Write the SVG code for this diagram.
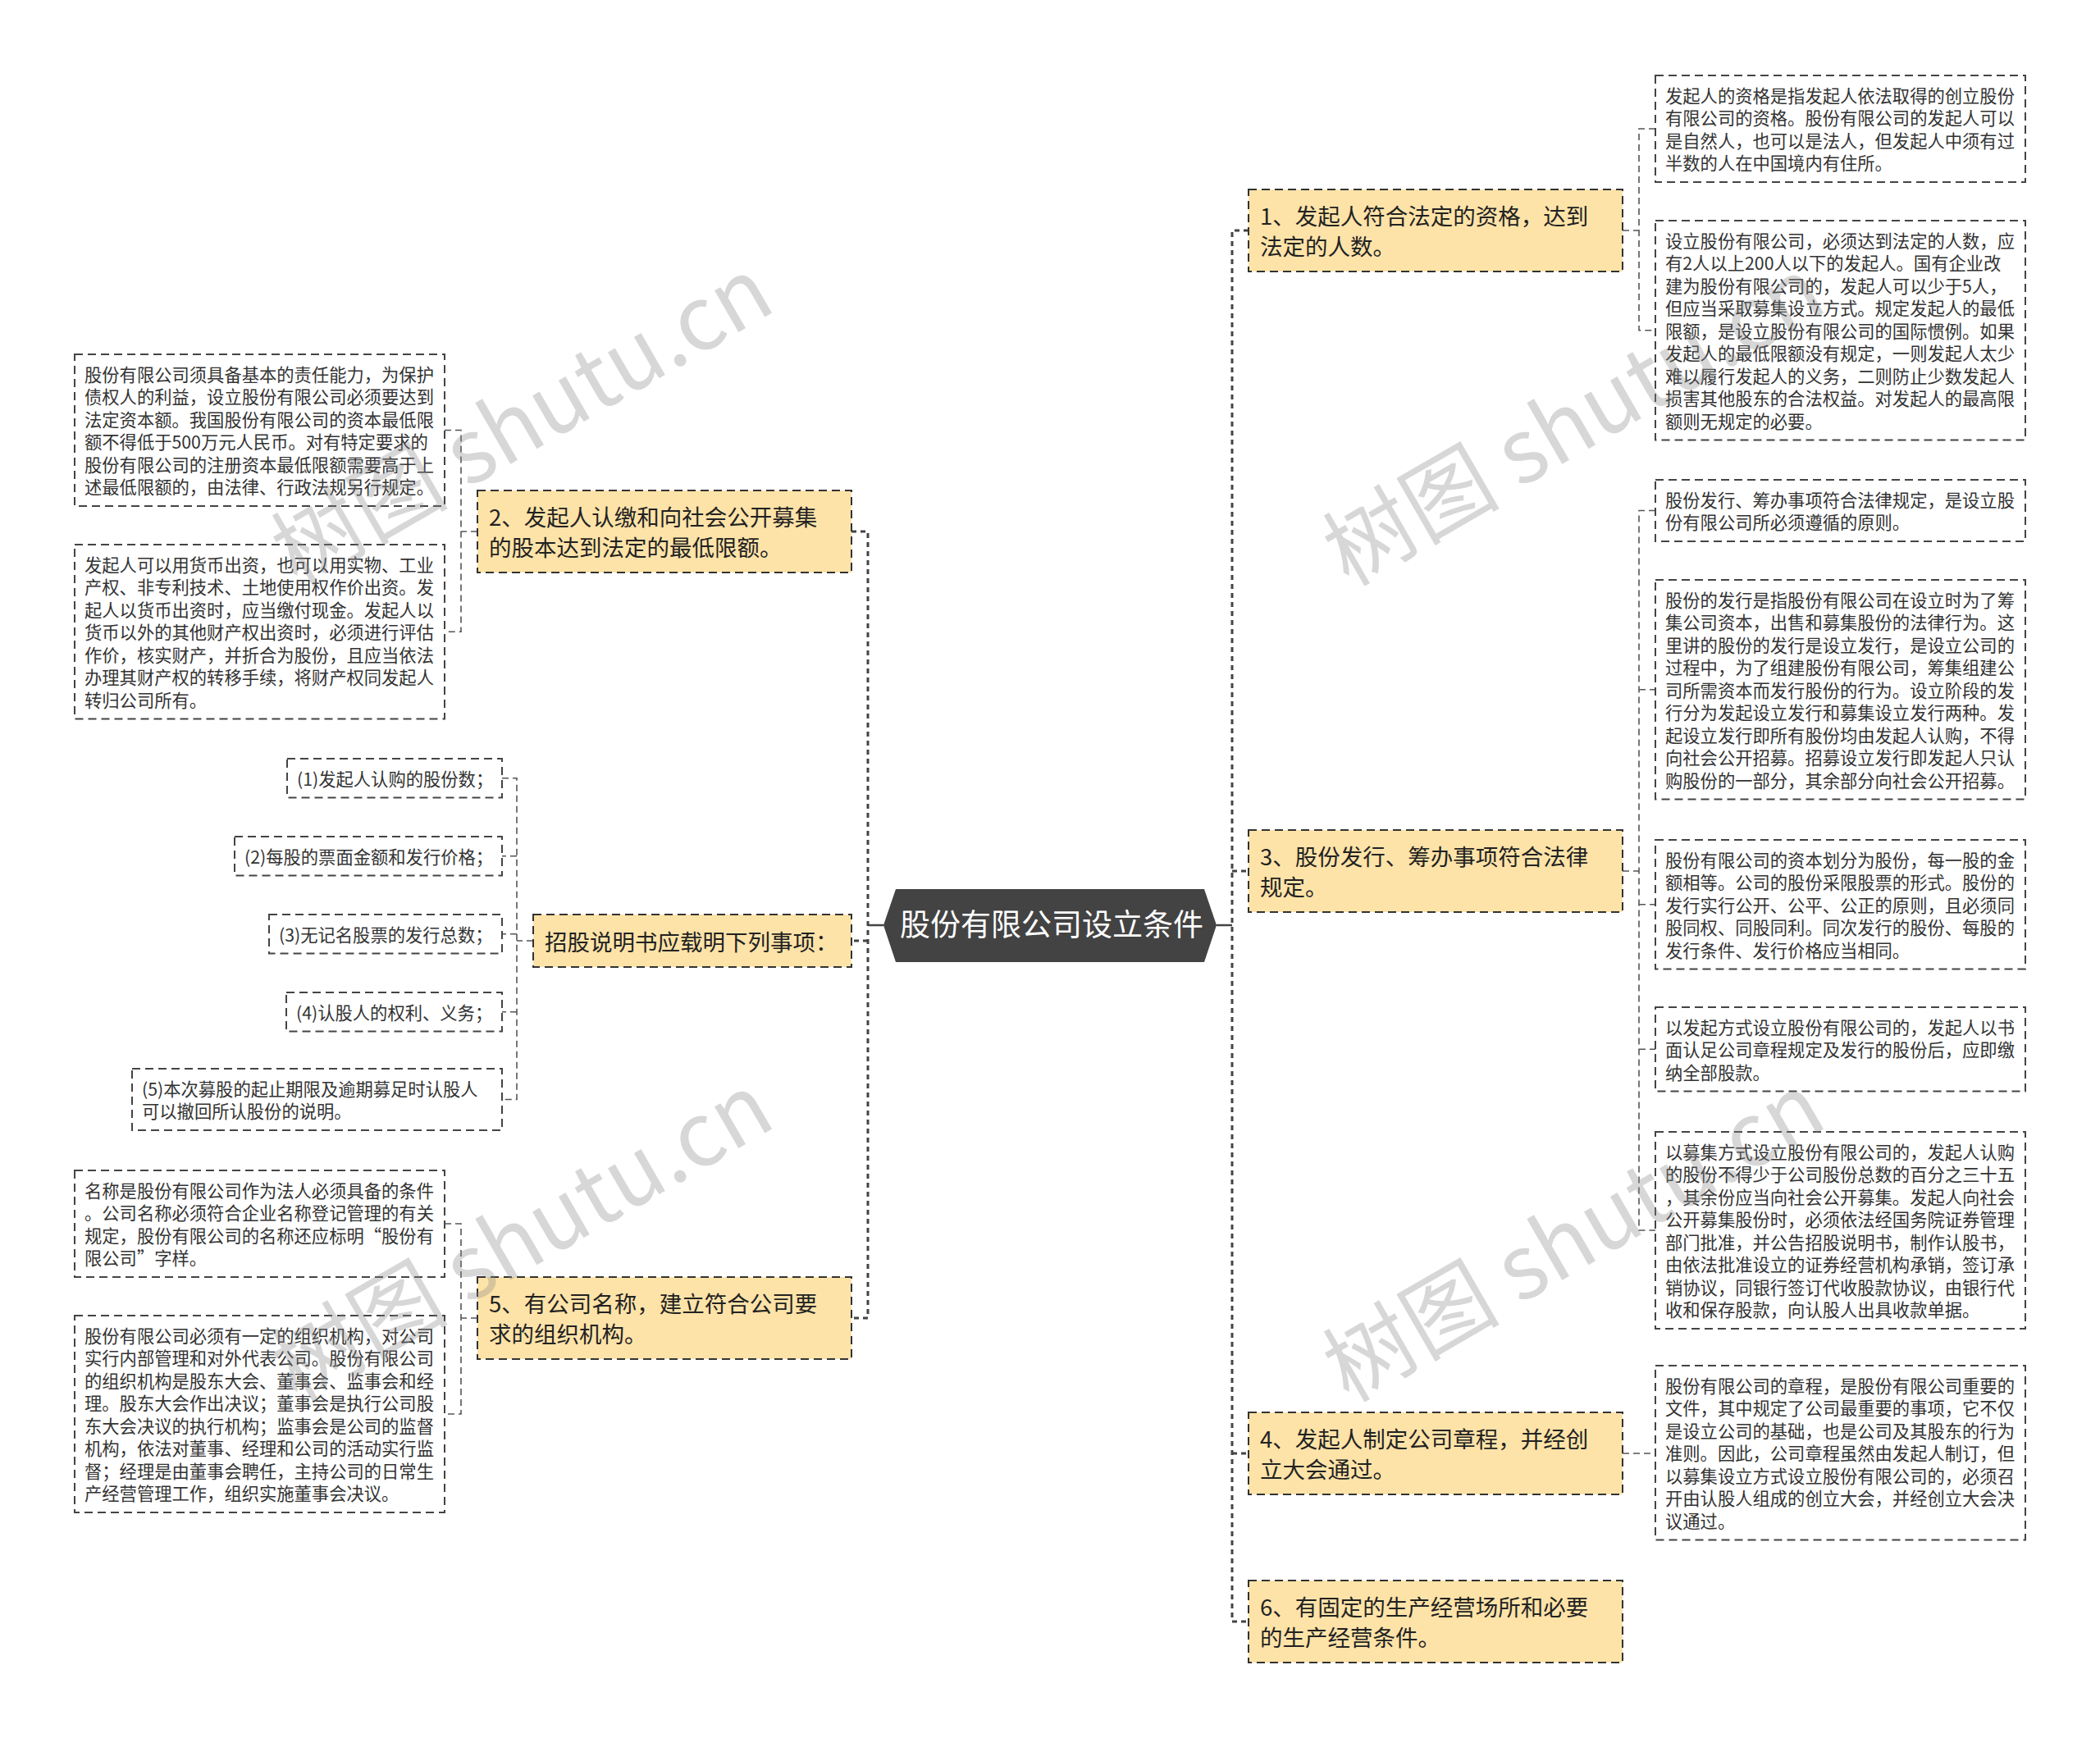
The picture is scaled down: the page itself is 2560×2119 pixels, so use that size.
<svg xmlns="http://www.w3.org/2000/svg" width="2560" height="2119" viewBox="0 0 2560 2119">
<style>
.leaf{fill:#ffffff;stroke:#444;stroke-width:2;stroke-dasharray:10 6}
.branch{fill:#fee3a8;stroke:#333;stroke-width:2;stroke-dasharray:10 6}
.lt{font-family:"Noto Sans CJK SC","Microsoft YaHei",sans-serif;font-size:21.3px;fill:#333;transform:translate(0px,1.5px)}
.bt{font-family:"Noto Sans CJK SC","Microsoft YaHei",sans-serif;font-size:27.5px;fill:#222;transform:translate(0px,1.5px)}
.ct{font-family:"Noto Sans CJK SC","Microsoft YaHei",sans-serif;font-size:37px;fill:#fff}
.trunk{fill:none;stroke:#444;stroke-width:3;stroke-dasharray:6 5}
.thin{fill:none;stroke:#555;stroke-width:1.6;stroke-dasharray:8 5}
.solid{fill:none;stroke:#444;stroke-width:2.5}
.wm{font-family:"Noto Sans CJK SC","Microsoft YaHei",sans-serif;font-size:108px;fill:#888;opacity:0.33}
</style>
<rect width="2560" height="2119" fill="#ffffff"/>
<g id="connectors">
<path class="solid" d="M1058,1128 H1077 M1483,1128 H1502"/>
<path class="trunk" d="M1522,281 H1502 V1977 H1522 M1502,1062 H1522 M1502,1772 H1522"/>
<path class="trunk" d="M1038,648 H1058 V1607 H1038 M1058,1147 H1038"/>
<path class="thin" d="M1978,281 H1998 M2018,157 H1998 V402.75 H2018"/>
<path class="thin" d="M1978,1062 H1998 M2018,622.5 H1998 V1500 H2018 M1998,840.75 H2018 M1998,1102.75 H2018 M1998,1279.25 H2018"/>
<path class="thin" d="M1978,1772 H2018"/>
<path class="thin" d="M582,648 H562 M542,524.5 H562 V770.25 H542"/>
<path class="thin" d="M650,1147 H630 M612,948.75 H630 V1340.5 H612 M630,1043.75 H612 M630,1138.75 H612 M630,1233.75 H612"/>
<path class="thin" d="M582,1607 H562 M542,1492 H562 V1724 H542"/>
</g>
<g id="center">
<polygon points="1077,1128 1092,1084 1468,1084 1483,1128 1468,1173 1092,1173" fill="#434343"/>
<text class="ct" x="1282" y="1141" text-anchor="middle">股份有限公司设立条件</text>
</g>
<g id="n1">
<rect class="branch" x="1522" y="231" width="456" height="100"/>
<text class="bt"><tspan x="1536" y="272.5">1、发起人符合法定的资格，达到</tspan><tspan x="1536" y="309.5">法定的人数。</tspan></text>
</g>
<g id="n3">
<rect class="branch" x="1522" y="1012" width="456" height="100"/>
<text class="bt"><tspan x="1536" y="1053.5">3、股份发行、筹办事项符合法律</tspan><tspan x="1536" y="1090.5">规定。</tspan></text>
</g>
<g id="n4">
<rect class="branch" x="1522" y="1722" width="456" height="100"/>
<text class="bt"><tspan x="1536" y="1763.5">4、发起人制定公司章程，并经创</tspan><tspan x="1536" y="1800.5">立大会通过。</tspan></text>
</g>
<g id="n6">
<rect class="branch" x="1522" y="1927" width="456" height="100"/>
<text class="bt"><tspan x="1536" y="1968.5">6、有固定的生产经营场所和必要</tspan><tspan x="1536" y="2005.5">的生产经营条件。</tspan></text>
</g>
<g id="n2">
<rect class="branch" x="582" y="598" width="456" height="100"/>
<text class="bt"><tspan x="596" y="639.5">2、发起人认缴和向社会公开募集</tspan><tspan x="596" y="676.5">的股本达到法定的最低限额。</tspan></text>
</g>
<g id="nz">
<rect class="branch" x="650" y="1115" width="388" height="64"/>
<text class="bt" x="664" y="1157">招股说明书应载明下列事项：</text>
</g>
<g id="n5">
<rect class="branch" x="582" y="1557" width="456" height="100"/>
<text class="bt"><tspan x="596" y="1598.5">5、有公司名称，建立符合公司要</tspan><tspan x="596" y="1635.5">求的组织机构。</tspan></text>
</g>
<g id="r1">
<rect class="leaf" x="2018" y="92" width="451" height="130"/>
<text class="lt"><tspan x="2030" y="123.25">发起人的资格是指发起人依法取得的创立股份</tspan><tspan x="2030" y="150.75">有限公司的资格。股份有限公司的发起人可以</tspan><tspan x="2030" y="178.25">是自然人，也可以是法人，但发起人中须有过</tspan><tspan x="2030" y="205.75">半数的人在中国境内有住所。</tspan></text>
</g>
<g id="r2">
<rect class="leaf" x="2018" y="269" width="451" height="267.5"/>
<text class="lt"><tspan x="2030" y="300.25">设立股份有限公司，必须达到法定的人数，应</tspan><tspan x="2030" y="327.75">有2人以上200人以下的发起人。国有企业改</tspan><tspan x="2030" y="355.25">建为股份有限公司的，发起人可以少于5人，</tspan><tspan x="2030" y="382.75">但应当采取募集设立方式。规定发起人的最低</tspan><tspan x="2030" y="410.25">限额，是设立股份有限公司的国际惯例。如果</tspan><tspan x="2030" y="437.75">发起人的最低限额没有规定，一则发起人太少</tspan><tspan x="2030" y="465.25">难以履行发起人的义务，二则防止少数发起人</tspan><tspan x="2030" y="492.75">损害其他股东的合法权益。对发起人的最高限</tspan><tspan x="2030" y="520.25">额则无规定的必要。</tspan></text>
</g>
<g id="r3">
<rect class="leaf" x="2018" y="585" width="451" height="75"/>
<text class="lt"><tspan x="2030" y="616.25">股份发行、筹办事项符合法律规定，是设立股</tspan><tspan x="2030" y="643.75">份有限公司所必须遵循的原则。</tspan></text>
</g>
<g id="r4">
<rect class="leaf" x="2018" y="707" width="451" height="267.5"/>
<text class="lt"><tspan x="2030" y="738.25">股份的发行是指股份有限公司在设立时为了筹</tspan><tspan x="2030" y="765.75">集公司资本，出售和募集股份的法律行为。这</tspan><tspan x="2030" y="793.25">里讲的股份的发行是设立发行，是设立公司的</tspan><tspan x="2030" y="820.75">过程中，为了组建股份有限公司，筹集组建公</tspan><tspan x="2030" y="848.25">司所需资本而发行股份的行为。设立阶段的发</tspan><tspan x="2030" y="875.75">行分为发起设立发行和募集设立发行两种。发</tspan><tspan x="2030" y="903.25">起设立发行即所有股份均由发起人认购，不得</tspan><tspan x="2030" y="930.75">向社会公开招募。招募设立发行即发起人只认</tspan><tspan x="2030" y="958.25">购股份的一部分，其余部分向社会公开招募。</tspan></text>
</g>
<g id="r5">
<rect class="leaf" x="2018" y="1024" width="451" height="157.5"/>
<text class="lt"><tspan x="2030" y="1055.25">股份有限公司的资本划分为股份，每一股的金</tspan><tspan x="2030" y="1082.75">额相等。公司的股份采限股票的形式。股份的</tspan><tspan x="2030" y="1110.25">发行实行公开、公平、公正的原则，且必须同</tspan><tspan x="2030" y="1137.75">股同权、同股同利。同次发行的股份、每股的</tspan><tspan x="2030" y="1165.25">发行条件、发行价格应当相同。</tspan></text>
</g>
<g id="r6">
<rect class="leaf" x="2018" y="1228" width="451" height="102.5"/>
<text class="lt"><tspan x="2030" y="1259.25">以发起方式设立股份有限公司的，发起人以书</tspan><tspan x="2030" y="1286.75">面认足公司章程规定及发行的股份后，应即缴</tspan><tspan x="2030" y="1314.25">纳全部股款。</tspan></text>
</g>
<g id="r7">
<rect class="leaf" x="2018" y="1380" width="451" height="240"/>
<text class="lt"><tspan x="2030" y="1411.25">以募集方式设立股份有限公司的，发起人认购</tspan><tspan x="2030" y="1438.75">的股份不得少于公司股份总数的百分之三十五</tspan><tspan x="2030" y="1466.25">，其余份应当向社会公开募集。发起人向社会</tspan><tspan x="2030" y="1493.75">公开募集股份时，必须依法经国务院证券管理</tspan><tspan x="2030" y="1521.25">部门批准，并公告招股说明书，制作认股书，</tspan><tspan x="2030" y="1548.75">由依法批准设立的证券经营机构承销，签订承</tspan><tspan x="2030" y="1576.25">销协议，同银行签订代收股款协议，由银行代</tspan><tspan x="2030" y="1603.75">收和保存股款，向认股人出具收款单据。</tspan></text>
</g>
<g id="r8">
<rect class="leaf" x="2018" y="1665" width="451" height="212.5"/>
<text class="lt"><tspan x="2030" y="1696.25">股份有限公司的章程，是股份有限公司重要的</tspan><tspan x="2030" y="1723.75">文件，其中规定了公司最重要的事项，它不仅</tspan><tspan x="2030" y="1751.25">是设立公司的基础，也是公司及其股东的行为</tspan><tspan x="2030" y="1778.75">准则。因此，公司章程虽然由发起人制订，但</tspan><tspan x="2030" y="1806.25">以募集设立方式设立股份有限公司的，必须召</tspan><tspan x="2030" y="1833.75">开由认股人组成的创立大会，并经创立大会决</tspan><tspan x="2030" y="1861.25">议通过。</tspan></text>
</g>
<g id="la">
<rect class="leaf" x="91" y="432" width="451" height="185"/>
<text class="lt"><tspan x="103" y="463.25">股份有限公司须具备基本的责任能力，为保护</tspan><tspan x="103" y="490.75">债权人的利益，设立股份有限公司必须要达到</tspan><tspan x="103" y="518.25">法定资本额。我国股份有限公司的资本最低限</tspan><tspan x="103" y="545.75">额不得低于500万元人民币。对有特定要求的</tspan><tspan x="103" y="573.25">股份有限公司的注册资本最低限额需要高于上</tspan><tspan x="103" y="600.75">述最低限额的，由法律、行政法规另行规定。</tspan></text>
</g>
<g id="lb">
<rect class="leaf" x="91" y="664" width="451" height="212.5"/>
<text class="lt"><tspan x="103" y="695.25">发起人可以用货币出资，也可以用实物、工业</tspan><tspan x="103" y="722.75">产权、非专利技术、土地使用权作价出资。发</tspan><tspan x="103" y="750.25">起人以货币出资时，应当缴付现金。发起人以</tspan><tspan x="103" y="777.75">货币以外的其他财产权出资时，必须进行评估</tspan><tspan x="103" y="805.25">作价，核实财产，并折合为股份，且应当依法</tspan><tspan x="103" y="832.75">办理其财产权的转移手续，将财产权同发起人</tspan><tspan x="103" y="860.25">转归公司所有。</tspan></text>
</g>
<g id="l1">
<rect class="leaf" x="350" y="925" width="262" height="47.5"/>
<text class="lt" x="362" y="956.25">(1)发起人认购的股份数；</text>
</g>
<g id="l2">
<rect class="leaf" x="286" y="1020" width="326" height="47.5"/>
<text class="lt" x="298" y="1051.25">(2)每股的票面金额和发行价格；</text>
</g>
<g id="l3">
<rect class="leaf" x="328" y="1115" width="284" height="47.5"/>
<text class="lt" x="340" y="1146.25">(3)无记名股票的发行总数；</text>
</g>
<g id="l4">
<rect class="leaf" x="349" y="1210" width="263" height="47.5"/>
<text class="lt" x="361" y="1241.25">(4)认股人的权利、义务；</text>
</g>
<g id="l5">
<rect class="leaf" x="161" y="1303" width="451" height="75"/>
<text class="lt"><tspan x="173" y="1334.25">(5)本次募股的起止期限及逾期募足时认股人</tspan><tspan x="173" y="1361.75">可以撤回所认股份的说明。</tspan></text>
</g>
<g id="lc">
<rect class="leaf" x="91" y="1427" width="451" height="130"/>
<text class="lt"><tspan x="103" y="1458.25">名称是股份有限公司作为法人必须具备的条件</tspan><tspan x="103" y="1485.75">。公司名称必须符合企业名称登记管理的有关</tspan><tspan x="103" y="1513.25">规定，股份有限公司的名称还应标明“股份有</tspan><tspan x="103" y="1540.75">限公司”字样。</tspan></text>
</g>
<g id="ld">
<rect class="leaf" x="91" y="1604" width="451" height="240"/>
<text class="lt"><tspan x="103" y="1635.25">股份有限公司必须有一定的组织机构，对公司</tspan><tspan x="103" y="1662.75">实行内部管理和对外代表公司。股份有限公司</tspan><tspan x="103" y="1690.25">的组织机构是股东大会、董事会、监事会和经</tspan><tspan x="103" y="1717.75">理。股东大会作出决议；董事会是执行公司股</tspan><tspan x="103" y="1745.25">东大会决议的执行机构；监事会是公司的监督</tspan><tspan x="103" y="1772.75">机构，依法对董事、经理和公司的活动实行监</tspan><tspan x="103" y="1800.25">督；经理是由董事会聘任，主持公司的日常生</tspan><tspan x="103" y="1827.75">产经营管理工作，组织实施董事会决议。</tspan></text>
</g>
<g id="watermarks">
<text class="wm" transform="translate(362,716) rotate(-30)">树图 shutu.cn</text>
<text class="wm" transform="translate(362,1711) rotate(-30)">树图 shutu.cn</text>
<text class="wm" transform="translate(1644,716) rotate(-30)">树图 shutu.cn</text>
<text class="wm" transform="translate(1644,1711) rotate(-30)">树图 shutu.cn</text>
</g>
</svg>
